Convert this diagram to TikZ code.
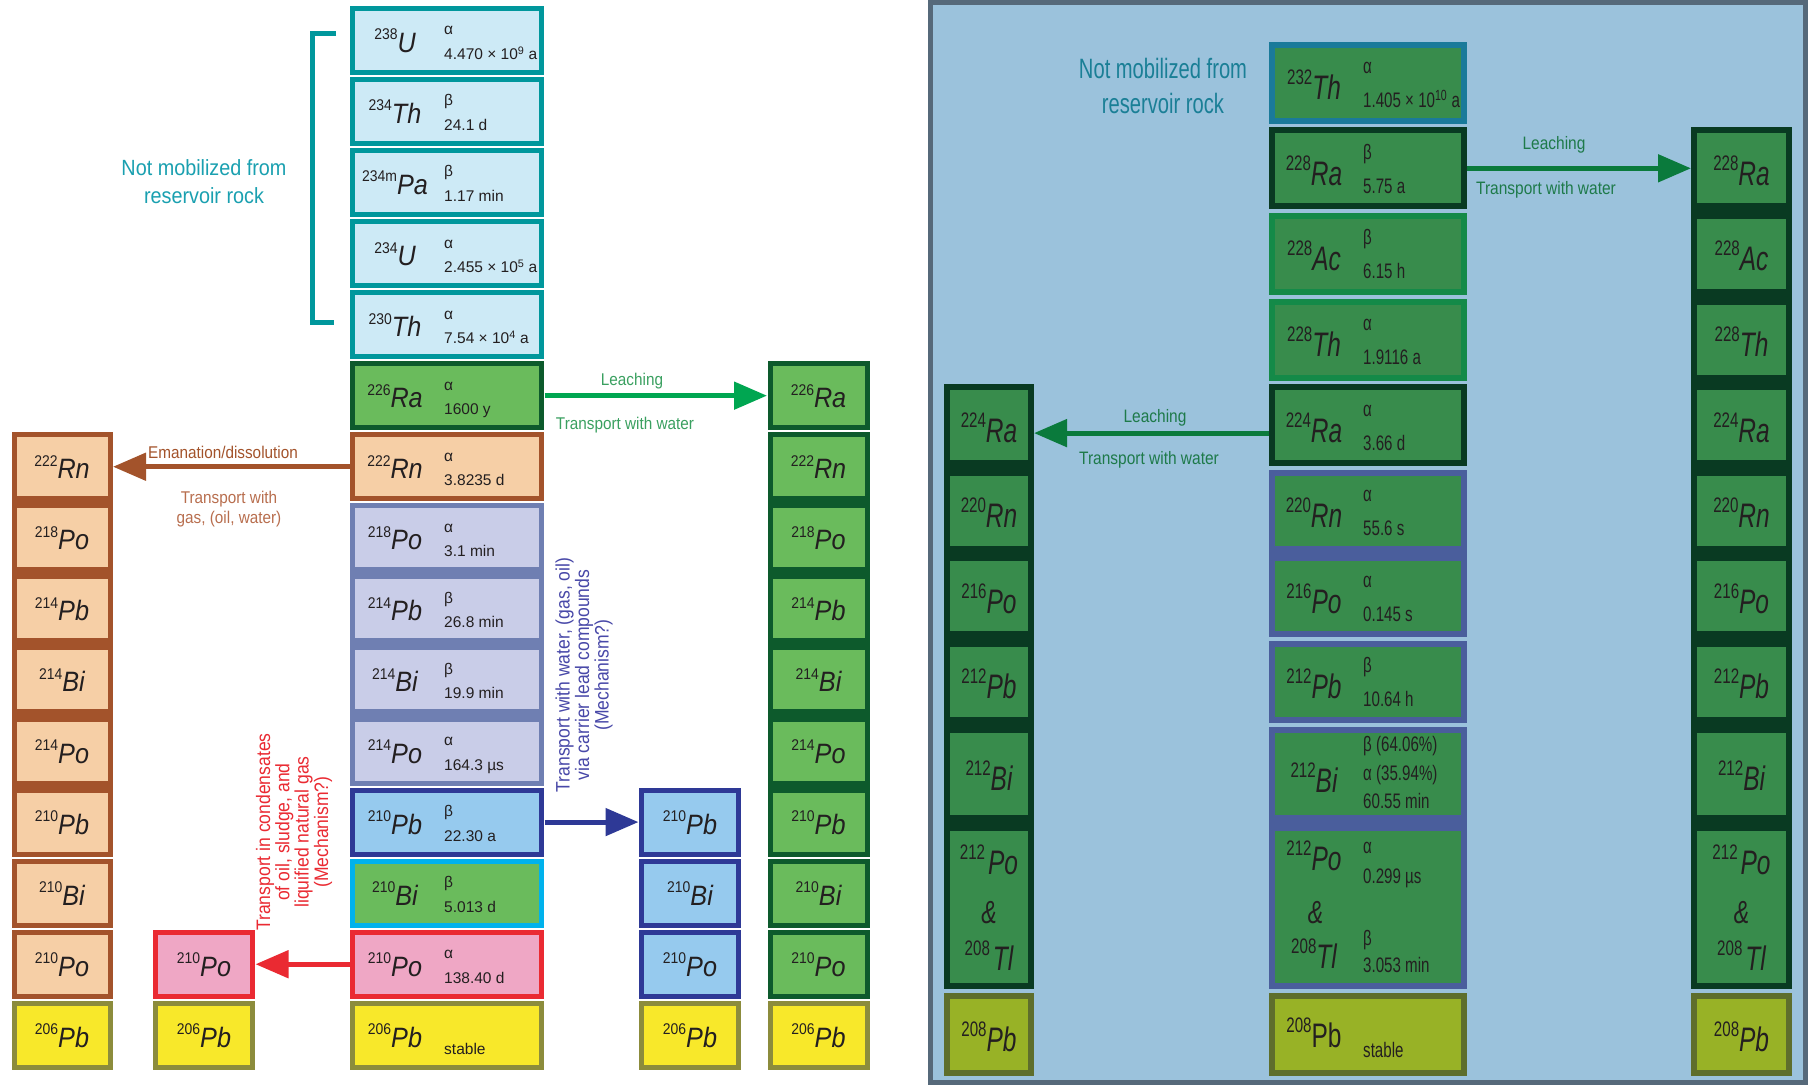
\documentclass[tikz,border=0pt]{standalone}
\usepackage{fontspec}
\setmainfont{Liberation Sans}
\newfontfamily\lsans[FakeStretch=0.9]{Liberation Sans}
\newfontfamily\rsans[FakeStretch=0.72]{Liberation Sans}
\newfontfamily\msans[FakeStretch=0.86]{Liberation Sans}
\usetikzlibrary{arrows.meta,calc}

\definecolor{cTealB}{HTML}{00979C}
\definecolor{cTealF}{HTML}{CDEAF6}
\definecolor{cGrF}{HTML}{6ABB5C}
\definecolor{cGrB}{HTML}{0D5A2C}
\definecolor{cPeF}{HTML}{F6CFA6}
\definecolor{cBrB}{HTML}{A3532B}
\definecolor{cLvF}{HTML}{C9CDE8}
\definecolor{cLvB}{HTML}{6F7FB2}
\definecolor{cBlF}{HTML}{96CAEE}
\definecolor{cBlB}{HTML}{2E3996}
\definecolor{cCyB}{HTML}{00B2EC}
\definecolor{cPkF}{HTML}{EFA7C5}
\definecolor{cRdB}{HTML}{EA2A32}
\definecolor{cYeF}{HTML}{F8E82A}
\definecolor{cOlB}{HTML}{8C8C3C}
\definecolor{cGrA}{HTML}{00A651}
\definecolor{cGrT}{HTML}{3AA060}
\definecolor{cBrT}{HTML}{B86E4E}
\definecolor{cBlT}{HTML}{4848A8}
\definecolor{cTealT}{HTML}{1AA0B0}
\definecolor{cPanel}{HTML}{9BC2DC}
\definecolor{cPanelB}{HTML}{56697A}
\definecolor{cRF}{HTML}{388C4C}
\definecolor{cRThB}{HTML}{1A7A9A}
\definecolor{cRDk}{HTML}{093A22}
\definecolor{cRGrB}{HTML}{148A48}
\definecolor{cRSl}{HTML}{4A5E9C}
\definecolor{cROlF}{HTML}{98B226}
\definecolor{cROlB}{HTML}{5E6E2C}
\definecolor{cRTeT}{HTML}{1A7F96}
\definecolor{cRGrT}{HTML}{1E7A4A}
\definecolor{cRArr}{HTML}{0A7A3C}
\definecolor{cTxt}{HTML}{231F20}

\newcommand\Liso[2]{\raisebox{12.5pt}{\fontsize{15.5}{15.5}\selectfont #1}{\fontsize{28}{28}\selectfont\itshape #2}}
\newcommand\Riso[2]{\raisebox{15pt}{\fontsize{21}{21}\selectfont #1}{\fontsize{34}{34}\selectfont\itshape #2}}

% left main column box: name, style, row, num, sym, line1, line2
\newcommand\Lmain[7]{%
 \node[lbox,#2,minimum width=189pt,minimum height=64pt] (#1) at (447,{40.3+71.07*#3}) {};
 \node[lsym,anchor=base] (#1-s) at ([xshift=-52pt,yshift=-12pt]#1.center) {\Liso{#4}{#5}};
 \node[ldec,anchor=base west] (#1-a) at ([xshift=-3pt,yshift=5.5pt]#1.center) {#6};
 \node[ldec,anchor=base west] (#1-b) at ([xshift=-3pt,yshift=-19pt]#1.center) {#7};
}
% left side box: name, style, x, path width, row, num, sym
\newcommand\Lside[7]{%
 \node[lbox,#2,minimum width=#4pt,minimum height=64pt] (#1) at (#3,{40.3+71.07*#5}) {};
 \node[lsym,anchor=base] (#1-s) at ([yshift=-12pt]#1.center) {\Liso{#6}{#7}};
}
% right main column box: name, style, ycenter, num, sym, line1, line2
\newcommand\Rmain[7]{%
 \node[rbox,#2,minimum width=192pt,minimum height=76pt] (#1) at (1368,#3) {};
 \node[rsym,anchor=base] (#1-s) at ([xshift=-54pt,yshift=-17pt]#1.center) {\Riso{#4}{#5}};
 \node[rdec,anchor=base west] (#1-a) at ([xshift=-5pt,yshift=9pt]#1.center) {#6};
 \node[rdec,anchor=base west] (#1-b) at ([xshift=-5pt,yshift=-25pt]#1.center) {#7};
}
% right side box: name, style, x, path width, ycenter, path height, num, sym
\newcommand\Rside[8]{%
 \node[rbox,#2,minimum width=#4pt,minimum height=#6pt] (#1) at (#3,#5) {};
 \node[rsym,anchor=base] (#1-s) at ([yshift=-17pt]#1.center) {\Riso{#7}{#8}};
}
% right side Po & Tl box: name, x, path width
\newcommand\RsidePoTl[3]{%
 \node[rbox,sRDk,minimum width=#3pt,minimum height=158pt] (#1) at (#2,907) {};
 \node[rsym,anchor=base] (#1-s1) at ([yshift=33pt]#1.center) {\Riso{212}{\kern3pt Po}};
 \node[rsym,anchor=base] (#1-amp) at ([yshift=-16pt]#1.center) {\fontsize{32}{32}\selectfont\itshape \&};
 \node[rsym,anchor=base] (#1-s2) at ([yshift=-63pt]#1.center) {\Riso{208}{\kern3pt Tl}};
}

\begin{document}
\begin{tikzpicture}[x=1pt,y=-1pt,
 lbox/.style={draw,line width=5pt,inner sep=0pt,outer sep=0pt},
 rbox/.style={draw,line width=6pt,inner sep=0pt,outer sep=0pt},
 lsym/.style={inner sep=0pt,text=cTxt,font=\lsans},
 ldec/.style={inner sep=0pt,text=cTxt,font=\fontsize{15.5}{15.5}\selectfont},
 rsym/.style={inner sep=0pt,text=cTxt,font=\rsans},
 rdec/.style={inner sep=0pt,text=cTxt,font=\rsans\fontsize{21}{21}\selectfont},
 sTeal/.style={fill=cTealF,draw=cTealB},
 sRa/.style={fill=cGrF,draw=cGrB},
 sGr/.style={fill=cGrF,draw=cGrB},
 sRn/.style={fill=cPeF,draw=cBrB},
 sLv/.style={fill=cLvF,draw=cLvB},
 sBl/.style={fill=cBlF,draw=cBlB},
 sBi/.style={fill=cGrF,draw=cCyB},
 sPk/.style={fill=cPkF,draw=cRdB},
 sYe/.style={fill=cYeF,draw=cOlB},
 sRTh/.style={fill=cRF,draw=cRThB},
 sRDk/.style={fill=cRF,draw=cRDk},
 sRGr/.style={fill=cRF,draw=cRGrB},
 sRSl/.style={fill=cRF,draw=cRSl},
 sROl/.style={fill=cROlF,draw=cROlB},
 arr/.style={line width=5pt,shorten <=3pt,shorten >=3pt,-{Triangle[length=33pt,width=27pt]}},
 ann/.style={inner sep=0pt,align=center},
]
\useasboundingbox (0,0) rectangle (1814,1085);
\fill[white] (0,0) rectangle (1814,1085);

% ================= LEFT PANEL =================
% solid bands
\fill[cBrB] (11.5,432.2) rectangle (112.5,856.6);
\fill[cGrB] (767.5,432.2) rectangle (869.5,856.6);
\fill[cLvB] (350,503.3) rectangle (544,785.5);

% main chain
\Lmain{u238}{sTeal}{0}{238}{U}{α}{4.470 × 10\textsuperscript{9} a}
\Lmain{th234}{sTeal}{1}{234}{Th}{β}{24.1 d}
\Lmain{pa234}{sTeal}{2}{234m}{Pa}{β}{1.17 min}
\Lmain{u234}{sTeal}{3}{234}{U}{α}{2.455 × 10\textsuperscript{5} a}
\Lmain{th230}{sTeal}{4}{230}{Th}{α}{7.54 × 10\textsuperscript{4} a}
\Lmain{ra226}{sRa}{5}{226}{Ra}{α}{1600 y}
\Lmain{rn222}{sRn}{6}{222}{Rn}{α}{3.8235 d}
\Lmain{po218}{sLv}{7}{218}{Po}{α}{3.1 min}
\Lmain{pb214}{sLv}{8}{214}{Pb}{β}{26.8 min}
\Lmain{bi214}{sLv}{9}{214}{Bi}{β}{19.9 min}
\Lmain{po214}{sLv}{10}{214}{Po}{α}{164.3 µs}
\Lmain{pb210}{sBl}{11}{210}{Pb}{β}{22.30 a}
\Lmain{bi210}{sBi}{12}{210}{Bi}{β}{5.013 d}
\Lmain{po210}{sPk}{13}{210}{Po}{α}{138.40 d}
\node[lbox,sYe,minimum width=189pt,minimum height=64pt] (pb206) at (447,{40.3+71.07*14}) {};
\node[lsym,anchor=base] (pb206-s) at ([xshift=-52pt,yshift=-12pt]pb206.center) {\Liso{206}{Pb}};
\node[ldec,anchor=base west] (pb206-a) at ([xshift=-3pt,yshift=-19pt]pb206.center) {stable};

% brown column
\Lside{b-rn222}{sRn}{62}{96}{6}{222}{Rn}
\Lside{b-po218}{sRn}{62}{96}{7}{218}{Po}
\Lside{b-pb214}{sRn}{62}{96}{8}{214}{Pb}
\Lside{b-bi214}{sRn}{62}{96}{9}{214}{Bi}
\Lside{b-po214}{sRn}{62}{96}{10}{214}{Po}
\Lside{b-pb210}{sRn}{62}{96}{11}{210}{Pb}
\Lside{b-bi210}{sRn}{62}{96}{12}{210}{Bi}
\Lside{b-po210}{sRn}{62}{96}{13}{210}{Po}
\Lside{b-pb206}{sYe}{62}{96}{14}{206}{Pb}
% pink column
\Lside{p-po210}{sPk}{204}{97}{13}{210}{Po}
\Lside{p-pb206}{sYe}{204}{97}{14}{206}{Pb}
% blue column
\Lside{bl-pb210}{sBl}{690}{97}{11}{210}{Pb}
\Lside{bl-bi210}{sBl}{690}{97}{12}{210}{Bi}
\Lside{bl-po210}{sBl}{690}{97}{13}{210}{Po}
\Lside{bl-pb206}{sYe}{690}{97}{14}{206}{Pb}
% green column
\Lside{g-ra226}{sGr}{818.5}{97}{5}{226}{Ra}
\Lside{g-rn222}{sGr}{818.5}{97}{6}{222}{Rn}
\Lside{g-po218}{sGr}{818.5}{97}{7}{218}{Po}
\Lside{g-pb214}{sGr}{818.5}{97}{8}{214}{Pb}
\Lside{g-bi214}{sGr}{818.5}{97}{9}{214}{Bi}
\Lside{g-po214}{sGr}{818.5}{97}{10}{214}{Po}
\Lside{g-pb210}{sGr}{818.5}{97}{11}{210}{Pb}
\Lside{g-bi210}{sGr}{818.5}{97}{12}{210}{Bi}
\Lside{g-po210}{sGr}{818.5}{97}{13}{210}{Po}
\Lside{g-pb206}{sYe}{818.5}{97}{14}{206}{Pb}

% bracket
\coordinate (brA) at (336,33);
\coordinate (brB) at (334,322);
\draw[cTealB,line width=5pt] (brA) -- (312,33) -- (312,322) -- (brB);
\node[ann,text=cTealT,font=\lsans\fontsize{22}{28}\selectfont] (nm-l) at (204,182) {Not mobilized from\\reservoir rock};

% arrows left
\draw[arr,cGrA] (ra226.east) -- (g-ra226.west);
\draw[arr,cBrB] (rn222.west) -- (b-rn222.east);
\draw[arr,cBlB] (pb210.east) -- (bl-pb210.west);
\draw[arr,cRdB] (po210.west) -- (p-po210.east);

\node[ann,text=cGrT,font=\lsans\fontsize{17}{20}\selectfont] (leach-l) at (632,381) {Leaching};
\node[ann,text=cGrT,font=\lsans\fontsize{17}{20}\selectfont] (tww-l) at (625,425) {Transport with water};
\node[ann,text=cBrB,font=\lsans\fontsize{17}{20}\selectfont] (eman) at (223,452) {Emanation/dissolution};
\node[ann,text=cBrT,font=\lsans\fontsize{17}{20}\selectfont] (twg) at (229,509) {Transport with\\gas, (oil, water)};
\node[ann,text=cBlT,rotate=90,font=\lsans\fontsize{19.5}{19.5}\selectfont] (twb) at (584,675) {Transport with water, (gas, oil)\\via carrier lead compounds\\(Mechanism?)};
\node[ann,text=cRdB,rotate=90,font=\lsans\fontsize{19.5}{19.3}\selectfont] (tic) at (294,832) {Transport in condensates\\of oil, sludge, and\\liquified natural gas\\(Mechanism?)};

% ================= RIGHT PANEL =================
\draw[line width=5pt,draw=cPanelB,fill=cPanel] (930.5,2.5) rectangle (1805.5,1082.5);
\fill[cRDk] (1691,127.3) rectangle (1792,989);
\fill[cRDk] (944,384.1) rectangle (1034,989);
\fill[cRSl] (1269,469.7) rectangle (1467,637);
\fill[cRSl] (1269,726.5) rectangle (1467,989);

\Rmain{th232}{sRTh}{82.7}{232}{Th}{α}{1.405 × 10\textsuperscript{10} a}
\Rmain{ra228}{sRDk}{168.3}{228}{Ra}{β}{5.75 a}
\Rmain{ac228}{sRGr}{253.9}{228}{Ac}{β}{6.15 h}
\Rmain{th228}{sRGr}{339.5}{228}{Th}{α}{1.9116 a}
\Rmain{ra224}{sRDk}{425.1}{224}{Ra}{α}{3.66 d}
\Rmain{rn220}{sRSl}{510.7}{220}{Rn}{α}{55.6 s}
\Rmain{po216}{sRSl}{596.3}{216}{Po}{α}{0.145 s}
\Rmain{pb212}{sRSl}{681.9}{212}{Pb}{β}{10.64 h}
% 212Bi
\node[rbox,sRSl,minimum width=192pt,minimum height=88.5pt] (bi212) at (1368,773.8) {};
\node[rsym,anchor=base] (bi212-s) at ([xshift=-54pt,yshift=-19pt]bi212.center) {\Riso{212}{Bi}};
\node[rdec,anchor=base west] (bi212-a) at ([xshift=-5pt,yshift=22.8pt]bi212.center) {β (64.06\%)};
\node[rdec,anchor=base west] (bi212-b) at ([xshift=-5pt,yshift=-6.2pt]bi212.center) {α (35.94\%)};
\node[rdec,anchor=base west] (bi212-c) at ([xshift=-5pt,yshift=-34.7pt]bi212.center) {60.55 min};
% 212Po & 208Tl
\node[rbox,sRSl,minimum width=192pt,minimum height=158pt] (potl) at (1368,907) {};
\node[rsym,anchor=base] (potl-s1) at ([xshift=-54pt,yshift=37pt]potl.center) {\Riso{212}{Po}};
\node[rdec,anchor=base west] (potl-a) at ([xshift=-5pt,yshift=54pt]potl.center) {α};
\node[rdec,anchor=base west] (potl-b) at ([xshift=-5pt,yshift=23.5pt]potl.center) {0.299 µs};
\node[rsym,anchor=base] (potl-amp) at ([xshift=-52.5pt,yshift=-16pt]potl.center) {\fontsize{32}{32}\selectfont\itshape \&};
\node[rsym,anchor=base] (potl-s2) at ([xshift=-54pt,yshift=-61pt]potl.center) {\Riso{208}{Tl}};
\node[rdec,anchor=base west] (potl-c) at ([xshift=-5pt,yshift=-38pt]potl.center) {β};
\node[rdec,anchor=base west] (potl-d) at ([xshift=-5pt,yshift=-65.5pt]potl.center) {3.053 min};
% 208Pb
\node[rbox,sROl,minimum width=192pt,minimum height=77pt] (pb208) at (1368,1034.5) {};
\node[rsym,anchor=base] (pb208-s) at ([xshift=-54pt,yshift=-13pt]pb208.center) {\Riso{208}{\upshape Pb}};
\node[rdec,anchor=base west] (pb208-a) at ([xshift=-5pt,yshift=-22.5pt]pb208.center) {stable};

% right side column
\Rside{rr-ra228}{sRDk}{1741.5}{95}{168.3}{76}{228}{Ra}
\Rside{rr-ac228}{sRDk}{1741.5}{95}{253.9}{76}{228}{Ac}
\Rside{rr-th228}{sRDk}{1741.5}{95}{339.5}{76}{228}{Th}
\Rside{rr-ra224}{sRDk}{1741.5}{95}{425.1}{76}{224}{Ra}
\Rside{rr-rn220}{sRDk}{1741.5}{95}{510.7}{76}{220}{Rn}
\Rside{rr-po216}{sRDk}{1741.5}{95}{596.3}{76}{216}{Po}
\Rside{rr-pb212}{sRDk}{1741.5}{95}{681.9}{76}{212}{Pb}
\Rside{rr-bi212}{sRDk}{1741.5}{95}{773.8}{88.5}{212}{Bi}
\RsidePoTl{rr-potl}{1741.5}{95}
\Rside{rr-pb208}{sROl}{1741.5}{95}{1034.5}{77}{208}{Pb}
% left side column
\Rside{lr-ra224}{sRDk}{989}{84}{425.1}{76}{224}{Ra}
\Rside{lr-rn220}{sRDk}{989}{84}{510.7}{76}{220}{Rn}
\Rside{lr-po216}{sRDk}{989}{84}{596.3}{76}{216}{Po}
\Rside{lr-pb212}{sRDk}{989}{84}{681.9}{76}{212}{Pb}
\Rside{lr-bi212}{sRDk}{989}{84}{773.8}{88.5}{212}{Bi}
\RsidePoTl{lr-potl}{989}{84}
\Rside{lr-pb208}{sROl}{989}{84}{1034.5}{77}{208}{Pb}

% right arrows
\draw[arr,cRArr] (ra228.east) -- (rr-ra228.west);
\draw[arr,cRArr] ([yshift=-8pt]ra224.west) -- ([yshift=-8pt]lr-ra224.east);

\node[ann,text=cRTeT,font=\rsans\fontsize{28}{35}\selectfont] (nm-r) at (1163,86) {Not mobilized from\\reservoir rock};
\node[ann,text=cRGrT,font=\msans\fontsize{18}{20}\selectfont] (leach-r1) at (1554,145) {Leaching};
\node[ann,text=cRGrT,font=\msans\fontsize{18}{20}\selectfont] (tww-r1) at (1546,190) {Transport with water};
\node[ann,text=cRGrT,font=\msans\fontsize{18}{20}\selectfont] (leach-r2) at (1155,418) {Leaching};
\node[ann,text=cRGrT,font=\msans\fontsize{18}{20}\selectfont] (tww-r2) at (1149,460) {Transport with water};
\end{tikzpicture}
\end{document}
